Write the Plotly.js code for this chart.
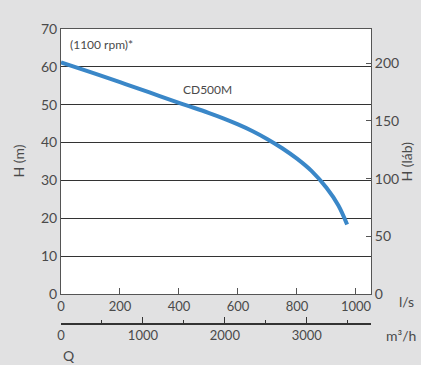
<!DOCTYPE html>
<html><head><meta charset="utf-8">
<script src="https://cdn.plot.ly/plotly-3.0.1.min.js"></script>
<style>html,body{margin:0;padding:0;background:#e1e1e2;}#chart{width:421px;height:365px;}</style>
</head><body><div id="chart"></div>
<script>
// Flow in l/s and head in m
const flowLs = [0, 100, 200, 300, 400, 450, 500, 550, 600, 650, 700, 750, 800, 850, 900, 940, 970];
const headM  = [61.2, 58.6, 55.95, 53.25, 50.5, 49.2, 47.85, 46.4, 44.8, 43.0, 40.9, 38.5, 35.75, 32.45, 28.05, 23.45, 18.35];
const seriesName = "CD500M";
const speedNote = "(1100 rpm)*";
const xTicksLs = [0, 200, 400, 600, 800, 1000];
const yTicksM = [0, 10, 20, 30, 40, 50, 60, 70];
const yTicksFt = [0, 50, 100, 150, 200];
const xTicksM3h = [0, 1000, 2000, 3000];
const xMinorM3h = [500, 1500, 2500, 3500];

const M_TO_FT = 3.28084, LS_TO_M3H = 3.6;
const xMax = 1051, yMax = 70;
const txt = '#4a4a4a', lineC = '#555555';
const font = {family: 'Lato, "Open Sans", sans-serif', size: 13, color: txt};

const traces = [
  {x: flowLs, y: headM, type: 'scatter', mode: 'lines', line: {color: '#3a87c8', width: 4, shape: 'spline', smoothing: 1},
   xaxis: 'x', yaxis: 'y', hoverinfo: 'skip'},
  {x: [0, xMax], y: [0, yMax * M_TO_FT], mode: 'markers', marker: {opacity: 0}, xaxis: 'x', yaxis: 'y2', hoverinfo: 'skip'},
  {x: [0, xMax * LS_TO_M3H], y: [0, yMax], mode: 'markers', marker: {opacity: 0}, xaxis: 'x2', yaxis: 'y', hoverinfo: 'skip'},
  {x: [0, xMax * LS_TO_M3H], y: [0, yMax], mode: 'markers', marker: {opacity: 0}, xaxis: 'x3', yaxis: 'y', hoverinfo: 'skip'}
];

const dom0 = 29 / 294;
const layout = {
  width: 421, height: 365,
  margin: {l: 61, r: 50, t: 29, b: 42, pad: 0},
  paper_bgcolor: '#e1e1e2', plot_bgcolor: 'rgba(0,0,0,0)',
  showlegend: false, font: font,
  shapes: [{type: 'rect', xref: 'x', yref: 'y', x0: 0, x1: xMax, y0: 0, y1: yMax, fillcolor: '#ffffff', line: {width: 0}, layer: 'below'}],
  xaxis: {range: [0, xMax], domain: [0, 1], anchor: 'y', tickvals: xTicksLs, ticks: 'inside', ticklen: 6, tickcolor: lineC,
          showline: true, linecolor: lineC, linewidth: 1, mirror: true, showgrid: false, zeroline: false,
          tickfont: {size: 13, color: txt}},
  xaxis2: {range: [0, xMax * LS_TO_M3H], overlaying: 'x', anchor: 'free', position: 0, side: 'bottom',
           tickvals: xTicksM3h, ticks: 'inside', ticklen: 6, tickcolor: '#333',
           showline: true, linecolor: '#333', linewidth: 1.5, showgrid: false, zeroline: false,
           tickfont: {size: 13, color: txt}},
  xaxis3: {range: [0, xMax * LS_TO_M3H], overlaying: 'x', anchor: 'free', position: 0, side: 'bottom',
           tickvals: xMinorM3h, showticklabels: false, ticks: 'inside', ticklen: 3, tickcolor: '#333',
           showline: false, showgrid: false, zeroline: false},
  yaxis: {range: [0, yMax], domain: [dom0, 1], anchor: 'x', tickvals: yTicksM, ticks: '', showline: true, linecolor: lineC,
          showgrid: true, gridcolor: '#333333', gridwidth: 1, zeroline: false, tickfont: {size: 14, color: txt}},
  yaxis2: {range: [0, yMax * M_TO_FT], overlaying: 'y', side: 'right', anchor: 'x', tickvals: yTicksFt, ticks: 'inside', ticklen: 5,
           tickcolor: lineC, showline: true, linecolor: lineC, showgrid: false, zeroline: false, tickfont: {size: 14, color: txt}},
  annotations: [
    {text: speedNote, xref: 'x', yref: 'y', x: 24, y: 66, xanchor: 'left', yanchor: 'middle', showarrow: false, font: {size: 12, color: txt}},
    {text: seriesName, xref: 'x', yref: 'y', x: 498, y: 54.1, xanchor: 'center', yanchor: 'middle', showarrow: false, font: {size: 12, color: txt}},
    {text: 'H (m)', xref: 'paper', yref: 'y', x: 0, xshift: -43, y: 35, textangle: -90, xanchor: 'center', yanchor: 'middle', showarrow: false, font: {size: 14, color: txt}},
    {text: 'H (láb)', xref: 'paper', yref: 'y', x: 1, xshift: 35, y: 35, textangle: -90, xanchor: 'center', yanchor: 'middle', showarrow: false, font: {size: 14, color: txt}},
    {text: 'l/s', xref: 'paper', yref: 'paper', x: 1, xshift: 35, y: dom0, yshift: -7, xanchor: 'center', yanchor: 'middle', showarrow: false, font: {size: 14, color: txt}},
    {text: 'm³/h', xref: 'paper', yref: 'paper', x: 1, xshift: 30, y: 0, yshift: -12, xanchor: 'center', yanchor: 'middle', showarrow: false, font: {size: 14, color: txt}},
    {text: 'Q', xref: 'paper', yref: 'paper', x: 0, y: 0, yshift: -32, xanchor: 'left', yanchor: 'middle', showarrow: false, font: {size: 14, color: txt}}
  ]
};
Plotly.newPlot('chart', traces, layout, {displayModeBar: false, staticPlot: true});
</script></body></html>
